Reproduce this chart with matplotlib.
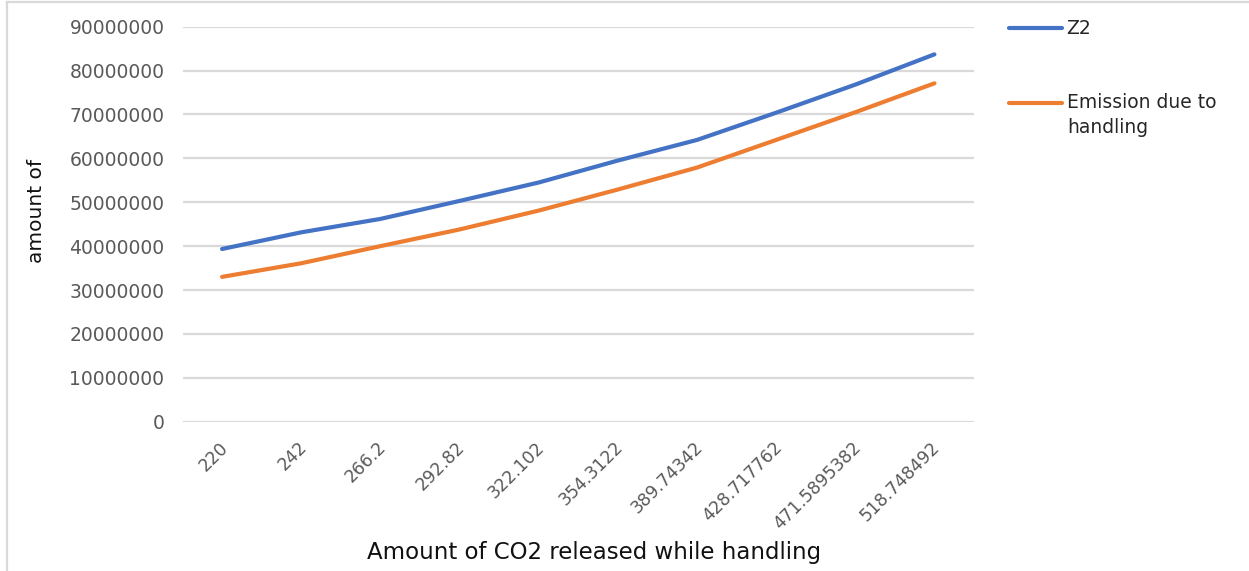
import matplotlib
matplotlib.use("Agg")
import matplotlib.pyplot as plt
from matplotlib.lines import Line2D
from matplotlib.transforms import ScaledTranslation, blended_transform_factory

# Category labels (CO2 released while handling) and the two series
co2_released = ["220", "242", "266.2", "292.82", "322.102", "354.3122",
                "389.74342", "428.717762", "471.5895382", "518.748492"]
z2 = [39.35e6, 43.15e6, 46.2e6, 50.3e6, 54.5e6, 59.5e6, 64.2e6, 70.4e6, 76.8e6, 83.7e6]
emission = [33.0e6, 36.1e6, 40.0e6, 43.8e6, 48.1e6, 52.9e6, 57.9e6, 64.2e6, 70.5e6, 77.1e6]
y_ticks = [0, 10000000, 20000000, 30000000, 40000000, 50000000,
           60000000, 70000000, 80000000, 90000000]

W, H, DPI = 1249, 571, 100
BLUE = "#4472C4"
ORANGE = "#ED7D31"
GRID = "#D9D9D9"
TICK = "#595959"

plt.rcParams["font.family"] = ["DejaVu Sans"]

fig = plt.figure(figsize=(W / DPI, H / DPI), dpi=DPI)


def fx(px):
    return px / W


def fy(py):
    return 1 - py / H


ax = fig.add_axes([fx(182.5), fy(421.7), fx(974) - fx(182.5), fy(26.7) - fy(421.7)])

xs = list(range(len(co2_released)))
ax.plot(xs, z2, color=BLUE, lw=3.0, solid_capstyle="round", solid_joinstyle="round", zorder=3)
ax.plot(xs, emission, color=ORANGE, lw=3.0, solid_capstyle="round", solid_joinstyle="round", zorder=3)

ax.set_xlim(-0.5, len(co2_released) - 0.5)
ax.set_ylim(0, 90000000)
ax.set_yticks(y_ticks)
ax.set_yticklabels([str(v) for v in y_ticks], fontsize=13.5, color=TICK)
ax.tick_params(axis="y", length=0, pad=13)
ax.set_xticks(xs)
ax.set_xticklabels([])
ax.tick_params(axis="x", length=0)
ax.grid(axis="y", color=GRID, lw=1.6)
ax.set_axisbelow(True)
for s in ax.spines.values():
    s.set_visible(False)

# rotated category labels, each ending just below its category
trans = blended_transform_factory(ax.transData, ax.transAxes)
for i, lab in enumerate(co2_released):
    off = ScaledTranslation(3 / DPI, -23 / DPI, fig.dpi_scale_trans)
    ax.text(i, 0, lab, transform=trans + off, rotation=45, rotation_mode="anchor",
            ha="right", va="center", fontsize=12.5, color=TICK)

# axis titles
fig.text(fx(594), fy(552), "Amount of CO2 released while handling",
         ha="center", va="center", fontsize=16.5, color="#111111")
fig.text(fx(36), fy(211), "amount of", rotation=90,
         ha="center", va="center", fontsize=14.5, color="#111111")

# legend on the right
for y, col in [(28.3, BLUE), (102.7, ORANGE)]:
    fig.add_artist(Line2D([fx(1009), fx(1062)], [fy(y), fy(y)], color=col, lw=3.0,
                          solid_capstyle="round", transform=fig.transFigure))
fig.text(fx(1066), fy(28.5), "Z2", ha="left", va="center", fontsize=13.5, color="#262626")
fig.text(fx(1067), fy(102.5), "Emission due to", ha="left", va="center",
         fontsize=13.5, color="#262626")
fig.text(fx(1067), fy(127.5), "handling", ha="left", va="center",
         fontsize=13.5, color="#262626")

# chart frame (left and top edges)
fig.add_artist(Line2D([fx(7), fx(7)], [fy(1.5), 0], color=GRID, lw=1.6, transform=fig.transFigure))
fig.add_artist(Line2D([fx(7), 1], [fy(1.5), fy(1.5)], color=GRID, lw=1.6, transform=fig.transFigure))

fig.savefig("out.png", dpi=DPI)
